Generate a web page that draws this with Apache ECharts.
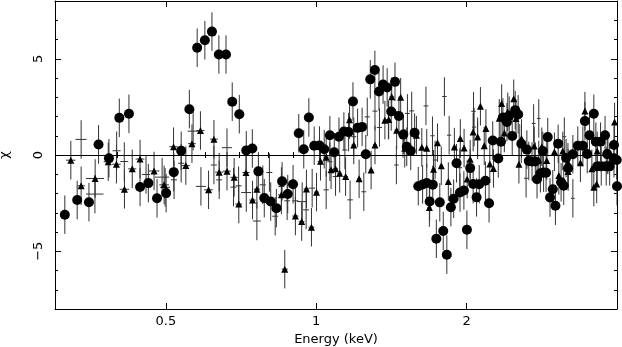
<!DOCTYPE html>
<html><head><meta charset="utf-8">
<script src="https://cdn.jsdelivr.net/npm/echarts@6/dist/echarts.min.js"></script>
<style>html,body{margin:0;padding:0;background:#fff}#c{width:622px;height:347px}</style>
</head><body><div id="c"></div>
<script>
// ---- tick positions / labels ----
const xMajorTicks = [0.5, 1, 2];
const xMinorTicks = [0.4, 0.6, 0.7, 0.8, 0.9, 3];
const yMajorTicks = [-5, 0, 5];
const yMinorTicks = [-8, -7, -6, -4, -3, -2, -1, 1, 2, 3, 4, 6, 7, 8];
const xLabel = 'Energy (keV)';
const yLabel = 'χ';
const SIGMA = 1; // residuals are in units of sigma

// ---- dataset 1: filled circles ----
const circleEnergy = [0.3139,0.3323,0.3508,0.3667,0.3847,0.4035,0.4218,0.4440,0.4613,0.4801,
0.5007,0.5186,0.5366,0.5573,0.5777,0.5985,0.6184,0.6385,0.6598,0.6790,
0.7015,0.7244,0.7449,0.7660,0.7871,0.8108,0.8322,0.8545,0.8770,0.8987,
0.9227,0.9442,0.9666,0.9908,1.0152,1.0376,1.0649,1.0867,1.1105,1.1360,
1.1609,1.1845,1.2101,1.2356,1.2567,1.2829,1.3104,1.3354,1.3609,1.3868,
1.4129,1.4377,1.4639,1.4940,1.5178,1.5458,1.5738,1.6005,1.6328,1.6643,
1.6867,1.7113,1.7395,1.7676,1.7958,1.8256,1.8601,1.8842,1.9092,1.9399,
1.9750,2.0028,2.0333,2.0610,2.0940,2.1197,2.1811,2.2179,2.2560,2.3144,
2.3430,2.3643,2.4088,2.4339,2.4680,2.5021,2.5362,2.5732,2.6402,2.6634,
2.7036,2.7447,2.7670,2.8101,2.8415,2.8519,2.8846,2.9068,2.9375,2.9754,
3.0118,3.0496,3.0916,3.1293,3.1635,3.1935,3.2640,3.3390,3.4178,3.4500,
3.4870,3.5240,3.5947,3.6287,3.6511,3.7080,3.7200,3.7856,3.8063,3.8235,
3.8666,3.9446,3.9446,3.9950,4.0];
const circleChi = [-3.10,-2.34,-2.45,0.55,-0.17,1.93,2.14,-1.66,-1.46,-2.25,
-1.98,-0.89,0.22,2.38,5.57,5.96,6.41,5.22,5.22,2.77,
2.12,0.24,0.34,-0.85,-2.24,-2.42,-2.76,-1.37,-2.03,-1.52,
1.13,0.30,1.95,0.48,0.49,0.30,1.03,0.14,0.95,1.22,
1.19,2.78,1.41,1.46,0.04,3.93,4.42,3.30,3.66,3.51,
2.26,3.80,2.03,1.06,0.43,0.21,1.16,-1.62,-1.53,-1.46,
-2.42,-1.54,-4.35,-2.46,-3.95,-5.18,-2.71,-2.27,-0.43,-1.95,
-1.84,-3.88,-0.68,-1.51,-2.20,-1.52,-1.34,-2.51,0.75,-0.18,
0.69,1.95,1.71,2.04,0.99,2.33,2.11,0.58,0.28,-0.31,
-0.34,-0.34,-1.26,-0.95,0.21,-0.91,-0.92,0.93,-2.21,-1.78,
-2.64,0.58,-1.42,-1.60,-0.16,-0.69,0.04,0.48,0.48,1.76,
0.05,1.03,2.14,0.69,-0.59,0.69,-0.59,1.03,-0.59,0.05,
-0.59,0.52,-0.17,-0.26,-1.62];

// ---- dataset 2: triangles ----
const triangleEnergy = [0.3227,0.3384,0.3610,0.3834,0.3982,0.4132,0.4283,0.4440,0.4736,0.4961,
0.5181,0.5483,0.5640,0.5865,0.6088,0.6241,0.6394,0.6628,0.6851,0.6999,
0.7234,0.7456,0.7607,0.8517,0.8650,0.9085,0.9352,0.9558,0.9783,1.0014,
1.0199,1.0470,1.0708,1.0931,1.1142,1.1450,1.1662,1.1890,1.2186,1.2878,
1.3110,1.3724,1.3966,1.4162,1.4488,1.4758,1.5038,1.5870,1.6268,1.6643,
1.6846,1.7170,1.7491,1.7797,1.8385,1.8902,1.9427,1.9769,2.0055,2.0333,
2.0610,2.1039,2.1316,2.1692,2.1861,2.2256,2.2634,2.3250,2.3505,2.3800,
2.4179,2.4850,2.5112,2.5453,2.5757,2.7317,2.7892,2.8284,2.8937,2.9978,
3.0594,3.1154,3.1905,3.1935,3.3793,3.4500,3.5626,3.5947,3.6424,3.6511,
3.8356,3.9557];
const triangleChi = [-0.27,-1.60,-1.22,-0.35,-0.48,-1.78,-0.72,-0.21,-0.83,-1.55,
0.43,-0.55,0.59,1.27,-1.81,0.82,-0.89,-0.84,-1.16,-2.55,
-0.91,-2.34,-1.78,-2.07,-5.93,-3.17,-3.46,-1.76,-3.75,-1.93,
-0.33,-0.12,-0.77,-0.72,-0.95,-1.12,1.83,0.52,-1.24,-0.78,
0.52,1.81,1.84,3.03,1.29,3.00,0.35,1.03,0.40,0.35,
-2.73,-0.74,0.64,-0.56,-1.38,0.41,0.86,0.36,-1.25,-0.22,
1.19,0.95,2.53,0.48,1.38,-0.47,-0.70,1.91,2.67,1.14,
2.24,2.92,1.90,-0.48,0.86,0.47,-0.26,0.43,-0.29,0.17,
-1.06,0.21,-0.38,-0.86,-0.40,2.28,-0.72,-1.67,-1.50,0.21,
0.00,1.72];
const triangleHalfWidth = [0.007,0.006,0.015,0.008,0.008,0.009,0.008,0.009,0.012,0.011,
0.010,0.010,0.010,0.011,0.012,0.011,0.012,0.012,0.012,0.011,
0.012,0.011,0.011,0.013,0.012,0.013,0.012,0.012,0.013,0.012,
0.013,0.012,0.012,0.013,0.012,0.013,0.012,0.013,0.012,0.013,
0.013,0.014,0.013,0.014,0.014,0.013,0.014,0.014,0.015,0.014,
0.015,0.015,0.014,0.015,0.016,0.015,0.016,0.015,0.016,0.016,
0.016,0.017,0.016,0.017,0.016,0.017,0.017,0.018,0.017,0.018,
0.018,0.018,0.019,0.018,0.019,0.019,0.020,0.019,0.020,0.020,
0.021,0.020,0.021,0.021,0.022,0.022,0.023,0.022,0.023,0.023,
0.024,0.024];

// ---- dataset 3: crosses (error bars only) ----
const crossEnergy = [0.3384,0.3606,0.3986,0.4129,0.4564,0.4915,0.4984,0.5193,0.5366,0.5671,
0.5878,0.6241,0.6394,0.6628,0.6830,0.6993,0.7244,0.7607,0.7817,0.8059,
0.8277,0.8517,0.8746,0.9085,0.9373,0.9546,0.9815,1.0470,1.0649,1.0931,
1.1413,1.1689,1.1890,1.2453,1.2652,1.3110,1.3384,1.3946,1.4469,1.4919,
1.5227,1.5528,1.6583,1.7089,1.7298,1.8055,1.8454,1.9380,2.0647,2.0702,
2.1039,2.5487,2.6305,2.7238,2.7892,3.1378,3.2640];
const crossChi = [0.81,-2.03,0.22,-0.34,-1.01,-1.15,-1.68,-1.29,-0.43,1.24,
-1.63,-0.52,-1.29,0.38,-1.67,-1.60,-1.95,-3.43,-1.55,-0.91,
-3.18,-1.64,-2.38,-2.38,-2.42,-2.85,-1.72,-1.81,-0.35,-1.12,
0.26,-2.33,0.95,-1.91,1.98,2.28,1.43,1.81,-0.52,0.86,
2.16,2.29,2.55,1.00,-0.26,3.04,1.03,-0.66,2.27,1.45,
0.78,0.61,-1.21,1.64,1.90,0.95,-2.25];
const crossHalfWidth = [0.0086,0.0145,0.0074,0.0076,0.0084,0.0160,0.0115,0.0072,0.0074,0.0144,
0.0136,0.0087,0.0089,0.0153,0.0095,0.0097,0.0167,0.0140,0.0110,0.0110,
0.0115,0.0120,0.0120,0.0126,0.0217,0.0130,0.0136,0.0130,0.0125,0.0140,
0.0130,0.0150,0.0140,0.0140,0.0150,0.0150,0.0160,0.0160,0.0150,0.0170,
0.0170,0.0180,0.0180,0.0170,0.0180,0.0190,0.0180,0.0200,0.0210,0.0200,
0.0200,0.0230,0.0240,0.0250,0.0240,0.0260,0.0280];

// ---- build ----
const FONT = 'DejaVu Sans';
const INK = '#000';
const BAR = '#333';
const circlePts = circleEnergy.map((e, i) => [e, circleChi[i], 0]);
const trianglePts = triangleEnergy.map((e, i) => [e, triangleChi[i], triangleHalfWidth[i]]);
const crossPts = crossEnergy.map((e, i) => [e, crossChi[i], crossHalfWidth[i]]);

function errRender(params, api) {
  const x = api.value(0), y = api.value(1), dx = api.value(2);
  const t = api.coord([x, y + SIGMA]);
  const b = api.coord([x, y - SIGMA]);
  const kids = [{ type: 'line', shape: { x1: t[0], y1: t[1], x2: b[0], y2: b[1] },
    style: { stroke: BAR, lineWidth: 1 } }];
  if (dx > 0) {
    const l = api.coord([x - dx, y]), r = api.coord([x + dx, y]);
    kids.push({ type: 'line', shape: { x1: l[0], y1: l[1], x2: r[0], y2: r[1] },
      style: { stroke: BAR, lineWidth: 1 } });
  }
  return { type: 'group', children: kids };
}
function errSeries(data) {
  return { type: 'custom', xAxisIndex: 0, yAxisIndex: 0, data: data, renderItem: errRender,
    clip: true, silent: true, animation: false };
}

const xBase = { type: 'log', logBase: 2, min: 0.3, max: 4, gridIndex: 0, splitLine: { show: false } };
const yBase = { type: 'value', min: -8, max: 8, gridIndex: 0, splitLine: { show: false } };
const line = { show: true, onZero: false, lineStyle: { color: INK, width: 1 } };
const noLine = { show: false };
const txt = { color: INK, fontFamily: FONT, fontSize: 13 };

const chart = echarts.init(document.getElementById('c'), null, { renderer: 'canvas' });
chart.setOption({
  animation: false,
  backgroundColor: '#fff',
  grid: { left: 55, right: 5, top: 1, bottom: 38, containLabel: false, outerBoundsMode: 'none' },
  xAxis: [
    Object.assign({}, xBase, { position: 'bottom', axisLine: line,
      axisTick: { show: true, inside: true, length: 6, customValues: xMajorTicks, lineStyle: { color: INK } },
      axisLabel: Object.assign({ show: true, customValues: xMajorTicks, margin: 6,
        formatter: v => String(+(+v).toFixed(3)) }, txt),
      name: xLabel, nameLocation: 'middle', nameGap: 22, nameTextStyle: txt }),
    Object.assign({}, xBase, { position: 'bottom', axisLine: noLine,
      axisTick: { show: true, inside: true, length: 3, customValues: xMinorTicks, lineStyle: { color: INK } },
      axisLabel: { show: false } }),
    Object.assign({}, xBase, { position: 'top', axisLine: line,
      axisTick: { show: true, inside: true, length: 6, customValues: xMajorTicks, lineStyle: { color: INK } },
      axisLabel: { show: false } }),
    Object.assign({}, xBase, { position: 'top', axisLine: noLine,
      axisTick: { show: true, inside: true, length: 3, customValues: xMinorTicks, lineStyle: { color: INK } },
      axisLabel: { show: false } })
  ],
  yAxis: [
    Object.assign({}, yBase, { position: 'left', axisLine: line,
      axisTick: { show: true, inside: true, length: 6, customValues: yMajorTicks, lineStyle: { color: INK } },
      axisLabel: Object.assign({ show: true, customValues: yMajorTicks, rotate: 90, margin: 10,
        formatter: v => (v < 0 ? '\u2212' + Math.abs(v) : String(v)) }, txt),
      name: yLabel, nameLocation: 'middle', nameGap: 44, nameRotate: 90, nameTextStyle: txt }),
    Object.assign({}, yBase, { position: 'left', axisLine: noLine,
      axisTick: { show: true, inside: true, length: 3, customValues: yMinorTicks, lineStyle: { color: INK } },
      axisLabel: { show: false } }),
    Object.assign({}, yBase, { position: 'right', axisLine: line,
      axisTick: { show: true, inside: true, length: 6, customValues: yMajorTicks, lineStyle: { color: INK } },
      axisLabel: { show: false } }),
    Object.assign({}, yBase, { position: 'right', axisLine: noLine,
      axisTick: { show: true, inside: true, length: 3, customValues: yMinorTicks, lineStyle: { color: INK } },
      axisLabel: { show: false } })
  ],
  series: [
    errSeries(crossPts),
    errSeries(trianglePts),
    errSeries(circlePts),
    { type: 'scatter', xAxisIndex: 0, yAxisIndex: 0, data: trianglePts, symbol: 'triangle',
      symbolSize: [7, 7], itemStyle: { color: INK, opacity: 1 }, silent: true,
      markLine: { silent: true, symbol: 'none', label: { show: false },
        lineStyle: { color: INK, width: 1, type: 'solid' }, data: [{ yAxis: 0 }] } },
    { type: 'scatter', xAxisIndex: 0, yAxisIndex: 0, data: circlePts, symbol: 'circle',
      symbolSize: 10, itemStyle: { color: INK, opacity: 1 }, silent: true }
  ]
});
</script></body></html>
